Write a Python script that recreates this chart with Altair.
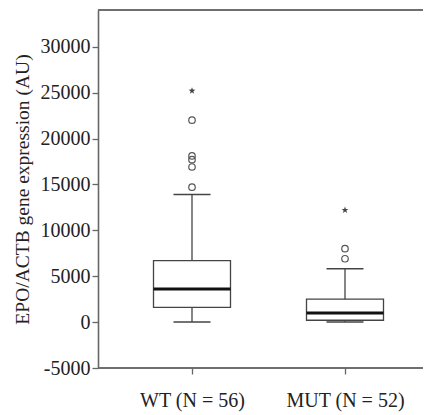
import altair as alt
import pandas as pd

groups = ["WT (N = 56)", "MUT (N = 52)"]
whisker_low = [0, 0]
q1 = [1600, 200]
median = [3600, 1000]
q3 = [6700, 2500]
whisker_high = [13900, 5800]

outlier_groups = ["WT (N = 56)"] * 5 + ["MUT (N = 52)"] * 2
outlier_values = [14700, 16900, 17700, 18100, 22000, 6900, 8000]

extreme_groups = ["WT (N = 56)", "MUT (N = 52)"]
extreme_values = [25200, 12200]

y_ticks = [-5000, 0, 5000, 10000, 15000, 20000, 25000, 30000]

box_df = pd.DataFrame({"g": groups, "lo": whisker_low, "q1": q1, "med": median,
                       "q3": q3, "hi": whisker_high})
out_df = pd.DataFrame({"g": outlier_groups, "v": outlier_values})
ext_df = pd.DataFrame({"g": extreme_groups, "v": extreme_values})

FONT = "Liberation Serif"
W, H = 325, 358
AX = "#666"
x_scale = alt.Scale(type="point", domain=groups, range=[94, 247], padding=0)
y_scale = alt.Scale(domain=[-5000, 34000], nice=False, zero=False)

x_enc = alt.X("g:N", scale=x_scale, sort=groups,
              axis=alt.Axis(title=None, labelFont=FONT, labelFontSize=20,
                            labelColor="#222", labelPadding=16, labelAngle=0,
                            tickSize=6, tickColor=AX, domain=False, tickWidth=1.3))
y_axis = alt.Axis(values=y_ticks, grid=False, title="EPO/ACTB gene expression (AU)",
                  labelExpr="datum.value + ''",
                  labelFont=FONT, labelFontSize=20, labelColor="#222",
                  titleFont=FONT, titleFontSize=19.5, titleFontWeight="normal",
                  titleColor="#222", titlePadding=8, tickSize=6, labelPadding=2,
                  tickColor=AX, domainColor=AX, domainWidth=1.6, tickWidth=1.3)

frame_top = alt.Chart(box_df).mark_rule(color=AX, strokeWidth=1.6).encode(
    x=alt.value(0), x2=alt.value(W), y=alt.value(0))
frame_bottom = alt.Chart(box_df).mark_rule(color=AX, strokeWidth=1.6).encode(
    x=alt.value(0), x2=alt.value(W), y=alt.value(H))
whisker = alt.Chart(box_df).mark_rule(color="#444", strokeWidth=1.3).encode(
    x=x_enc, y=alt.Y("lo:Q", scale=y_scale, axis=y_axis), y2="hi:Q")
box = alt.Chart(box_df).mark_bar(size=77, fill="white", stroke="#444",
                                 strokeWidth=1.3).encode(
    x=alt.X("g:N", scale=x_scale), y=alt.Y("q1:Q", scale=y_scale), y2="q3:Q")
med = alt.Chart(box_df).mark_tick(size=77, thickness=3, color="#111", opacity=1).encode(
    x=alt.X("g:N", scale=x_scale), y=alt.Y("med:Q", scale=y_scale))
cap_lo = alt.Chart(box_df).mark_tick(size=37, thickness=1.5, color="#444", opacity=1).encode(
    x=alt.X("g:N", scale=x_scale), y=alt.Y("lo:Q", scale=y_scale))
cap_hi = alt.Chart(box_df).mark_tick(size=37, thickness=1.5, color="#444", opacity=1).encode(
    x=alt.X("g:N", scale=x_scale), y=alt.Y("hi:Q", scale=y_scale))
outliers = alt.Chart(out_df).mark_point(shape="circle", size=42, filled=False,
                                        stroke="#555", strokeWidth=1.2, opacity=1).encode(
    x=alt.X("g:N", scale=x_scale), y=alt.Y("v:Q", scale=y_scale))
star = ("M0,-1L0.24,-0.33L0.95,-0.31L0.39,0.13L0.59,0.81L0,0.41L-0.59,0.81"
        "L-0.39,0.13L-0.95,-0.31L-0.24,-0.33Z")
extremes = alt.Chart(ext_df).mark_point(shape=star, size=50, filled=True,
                                        color="#444", opacity=1).encode(
    x=alt.X("g:N", scale=x_scale), y=alt.Y("v:Q", scale=y_scale))

chart = alt.layer(frame_top, frame_bottom, whisker, box, med, cap_lo, cap_hi,
                  outliers, extremes).properties(
    width=W, height=H,
    autosize=alt.AutoSizeParams(type="none"),
    padding={"left": 90, "top": 2, "right": 0, "bottom": 46},
).configure_view(stroke=None)

chart.save("out.html", embed_options={"renderer": "svg", "actions": False})
